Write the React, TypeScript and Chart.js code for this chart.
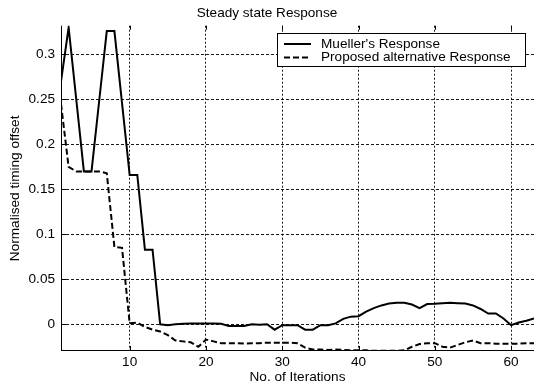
import React, { useEffect, useRef } from "react";
import { Chart, registerables } from "chart.js";

Chart.register(...registerables);

// ---- Data ----
const iterations = [
  1, 2, 3, 4, 5, 6, 7, 8, 9, 10, 11, 12, 13, 14, 15, 16, 17, 18, 19, 20, 21,
  22, 23, 24, 25, 26, 27, 28, 29, 30, 31, 32, 33, 34, 35, 36, 37, 38, 39, 40,
  41, 42, 43, 44, 45, 46, 47, 48, 49, 50, 51, 52, 53, 54, 55, 56, 57, 58, 59,
  60, 61, 62, 63,
];

const muellerResponse = [
  0.27, 0.33, 0.25, 0.17, 0.17, 0.248, 0.326, 0.326, 0.246, 0.166, 0.166,
  0.083, 0.083, 0.0, -0.001, 0.0, 0.0005, 0.001, 0.001, 0.001, 0.001, 0.0005,
  -0.002, -0.002, -0.002, 0.0, -0.0005, 0.0, -0.006, -0.001, -0.001, -0.001,
  -0.006, -0.006, -0.001, -0.001, 0.001, 0.006, 0.0085, 0.009, 0.014, 0.018,
  0.021, 0.023, 0.024, 0.024, 0.022, 0.018, 0.0225, 0.0228, 0.0235, 0.024,
  0.0235, 0.023, 0.021, 0.017, 0.012, 0.012, 0.0065, -0.001, 0.002, 0.004,
  0.0065,
];

const proposedResponse = [
  0.245, 0.175, 0.17, 0.17, 0.17, 0.17, 0.168, 0.086, 0.085, 0.001, 0.002,
  -0.003, -0.006, -0.008, -0.012, -0.018, -0.019, -0.02, -0.025, -0.017,
  -0.019, -0.021, -0.021, -0.021, -0.0215, -0.021, -0.021, -0.0205, -0.0205,
  -0.0205, -0.0205, -0.021, -0.026, -0.028, -0.028, -0.0285, -0.028, -0.0285,
  -0.029, -0.029, -0.029, -0.0295, -0.0295, -0.0295, -0.0295, -0.029, -0.025,
  -0.022, -0.021, -0.021, -0.025, -0.026, -0.023, -0.02, -0.018, -0.021,
  -0.021, -0.0215, -0.0215, -0.0215, -0.0215, -0.021, -0.021,
];

const seriesLabels = ["Mueller's Response", "Proposed alternative Response"];
const xTickValues = [10, 20, 30, 40, 50, 60];
const yTickValues = [0, 0.05, 0.1, 0.15, 0.2, 0.25, 0.3];
const chartTitle = "Steady state Response";
const xAxisTitle = "No. of Iterations";
const yAxisTitle = "Normalised timing offset";

const FONT_FAMILY = "'Liberation Sans', Arial, Helvetica, sans-serif";
const FONT_SIZE = 13.6;

const matlabDecor = {
  id: "matlabDecor",
  afterDraw(chart: any) {
    const { ctx, chartArea, scales } = chart;
    const { left, right, top, bottom } = chartArea;
    const x = scales.x;
    const y = scales.y;
    ctx.save();
    ctx.strokeStyle = "#000";
    ctx.lineWidth = 1;
    ctx.setLineDash([]);
    ctx.beginPath();
    const lx = Math.round(left) + 0.5;
    const by = Math.round(bottom) - 0.5;
    ctx.moveTo(lx, top);
    ctx.lineTo(lx, bottom);
    ctx.moveTo(left, by);
    ctx.lineTo(right, by);
    xTickValues.forEach((v) => {
      const px = Math.round(x.getPixelForValue(v)) + 0.5;
      ctx.moveTo(px, bottom);
      ctx.lineTo(px, bottom - 5);
      ctx.moveTo(px, top);
      ctx.lineTo(px, top + 4);
    });
    yTickValues.forEach((v) => {
      const py = Math.round(y.getPixelForValue(v)) + 0.5;
      ctx.moveTo(left, py);
      ctx.lineTo(left + 5, py);
    });
    ctx.stroke();

    // Legend box
    ctx.font = `${FONT_SIZE}px ${FONT_FAMILY}`;
    const datasets = chart.data.datasets;
    let maxW = 0;
    datasets.forEach((d: any) => {
      maxW = Math.max(maxW, ctx.measureText(d.label).width);
    });
    const boxW = 44 + maxW + 14;
    const boxRight = Math.round(right) - 9;
    const boxLeft = boxRight - Math.round(boxW);
    const boxTop = Math.round(top) + 7;
    const rowH = 13.5;
    const boxH = 33;
    ctx.fillStyle = "#fff";
    ctx.fillRect(boxLeft + 0.5, boxTop + 0.5, boxRight - boxLeft, boxH);
    ctx.strokeStyle = "#000";
    ctx.lineWidth = 1;
    ctx.strokeRect(boxLeft + 0.5, boxTop + 0.5, boxRight - boxLeft, boxH);
    datasets.forEach((d: any, i: number) => {
      const cy = boxTop + 11 + i * rowH;
      ctx.beginPath();
      ctx.lineWidth = d.borderWidth;
      ctx.strokeStyle = d.borderColor;
      ctx.setLineDash(d.borderDash || []);
      ctx.moveTo(boxLeft + 7, cy);
      ctx.lineTo(boxLeft + 34, cy);
      ctx.stroke();
      ctx.setLineDash([]);
      ctx.fillStyle = "#000";
      ctx.textBaseline = "middle";
      ctx.textAlign = "left";
      ctx.fillText(d.label, boxLeft + 44, cy);
    });
    ctx.restore();
  },
};

export default function App() {
  const canvasRef = useRef<HTMLCanvasElement | null>(null);

  useEffect(() => {
    if (!canvasRef.current) return;
    const font = { family: FONT_FAMILY, size: FONT_SIZE };
    const chart = new Chart(canvasRef.current, {
      type: "line",
      data: {
        datasets: [
          {
            label: seriesLabels[0],
            data: iterations.map((it, i) => ({ x: it, y: muellerResponse[i] })),
            borderColor: "#000",
            borderWidth: 2,
            pointRadius: 0,
            tension: 0,
            fill: false,
          },
          {
            label: seriesLabels[1],
            data: iterations.map((it, i) => ({ x: it, y: proposedResponse[i] })),
            borderColor: "#000",
            borderWidth: 2,
            borderDash: [6, 3],
            pointRadius: 0,
            tension: 0,
            fill: false,
          },
        ],
      },
      options: {
        responsive: false,
        animation: false,
        devicePixelRatio: 1,
        layout: { padding: { left: 0, right: 0, top: 0, bottom: 0 } },
        plugins: {
          legend: { display: false },
          tooltip: { enabled: false },
          title: {
            display: true,
            text: chartTitle,
            color: "#000",
            font: { ...font, weight: "normal" },
            padding: { top: 5, bottom: 4.4 },
          },
        },
        scales: {
          x: {
            type: "linear",
            min: 1,
            max: 63,
            afterBuildTicks: (scale: any) => {
              scale.ticks = xTickValues.map((v) => ({ value: v }));
            },
            afterFit: (scale: any) => {
              scale.height = 37;
            },
            ticks: {
              color: "#000",
              font,
              padding: 3,
              maxRotation: 0,
              autoSkip: false,
              callback: (v: any) => String(v),
            },
            grid: {
              color: "rgba(0,0,0,0.9)",
              lineWidth: 1,
              drawTicks: false,
            },
            border: { display: false, dash: [2, 2] },
            title: {
              display: true,
              text: xAxisTitle,
              color: "#000",
              font,
              padding: { top: 0, bottom: 3 },
            },
          },
          y: {
            type: "linear",
            min: -0.0297,
            max: 0.332,
            afterBuildTicks: (scale: any) => {
              scale.ticks = yTickValues.map((v) => ({ value: v }));
            },
            afterFit: (scale: any) => {
              scale.width = 61;
            },
            ticks: {
              color: "#000",
              font,
              padding: 6,
              autoSkip: false,
              callback: (v: any) => String(Math.round(v * 100) / 100),
            },
            grid: {
              color: "rgba(0,0,0,0.9)",
              lineWidth: 1,
              drawTicks: false,
            },
            border: { display: false, dash: [3, 2] },
            title: {
              display: true,
              text: yAxisTitle,
              color: "#000",
              font,
              padding: { top: 7, bottom: 0 },
            },
          },
        },
      },
      plugins: [matlabDecor],
    });
    return () => chart.destroy();
  }, []);

  return (
    <div
      style={{
        position: "fixed",
        left: 0,
        top: 0,
        width: 534,
        height: 388,
        background: "#fff",
      }}
    >
      <canvas
        ref={canvasRef}
        width={534}
        height={388}
        style={{ width: 534, height: 388, display: "block" }}
      />
    </div>
  );
}
